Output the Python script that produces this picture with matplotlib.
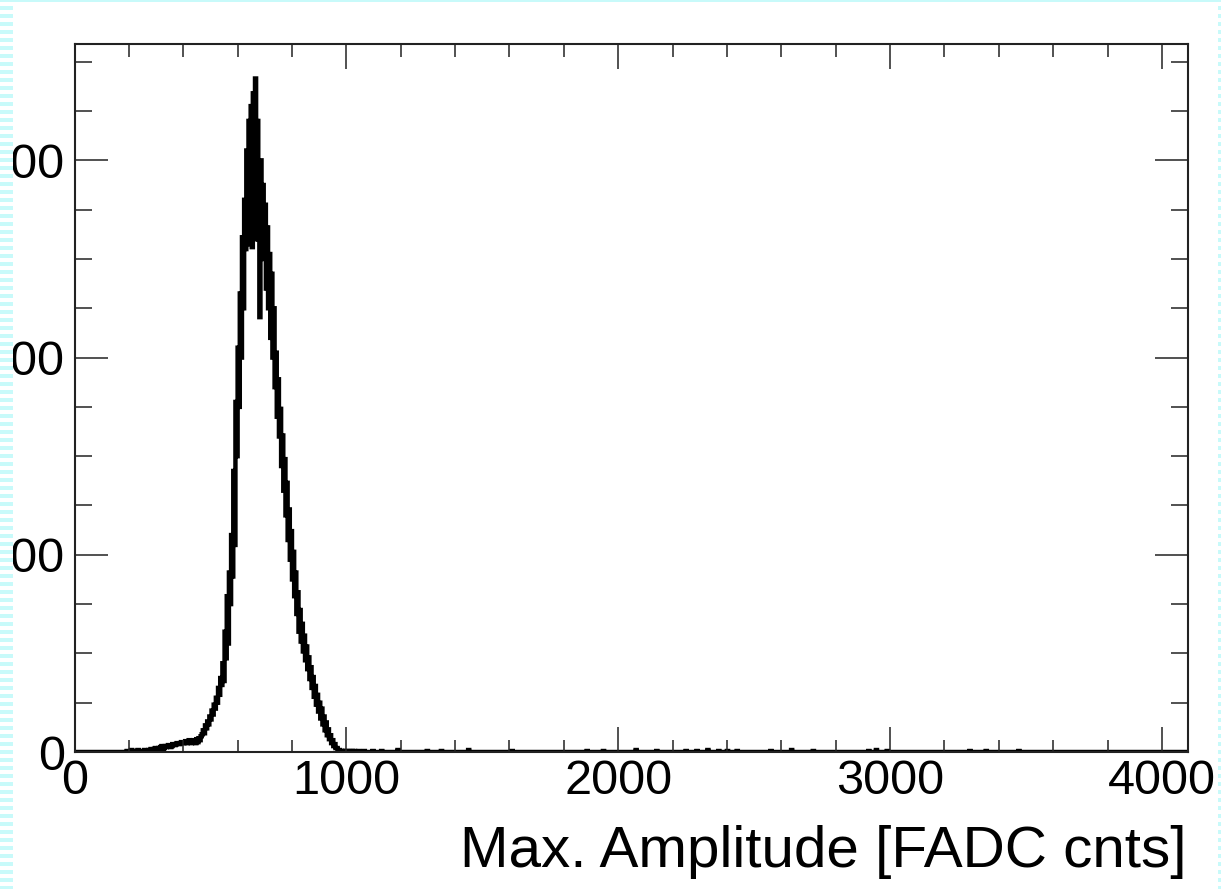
import numpy as np
import matplotlib
matplotlib.use("Agg")
import matplotlib.pyplot as plt
from matplotlib.patches import Rectangle
from matplotlib.ticker import MultipleLocator

plt.rcParams['font.family'] = ['Liberation Sans', 'DejaVu Sans']

# histogram: 1024 bins of 4 FADC counts over 0..4096
BIN_W = 4
N_BINS = 1024

# bin contents, first bin starts at 184
peak_start = 184
peak_counts = [
    # 184 - 436
    0, 0, 1, 0, 0, 0, 2, 1, 1, 0, 0, 0, 2, 0, 1, 1,
    1, 0, 2, 1, 1, 1, 2, 0, 3, 1, 2, 3, 4, 2, 3, 4,
    4, 5, 6, 3, 4, 6, 5, 6, 7, 7, 5, 6, 8, 7, 7, 8,
    9, 8, 8, 9, 10, 9, 9, 10, 11, 9, 10, 12, 11, 9, 10, 12,
    # 440 - 540
    12, 9, 13, 10, 14, 12, 16, 18, 22, 19, 27, 24, 31, 28, 36, 33,
    42, 38, 48, 44, 55, 50, 65, 58, 75, 68,
    # 544 - 660 (rising edge)
    90, 72, 122, 95, 158, 110, 182, 150, 220, 178, 285, 210, 355, 300, 410, 350,
    465, 400, 522, 450, 560, 510, 610, 530, 640, 515, 655, 512, 668, 520,
    # 664 - 700 (top)
    683, 530, 640, 520, 441, 600, 515, 575, 500, 555,
    # 704 - 1000 (falling edge)
    470, 532, 450, 505, 420, 485, 400, 450, 370, 405, 340, 378, 320, 348, 290, 321,
    265, 297, 240, 273, 215, 246, 195, 224, 175, 203, 158, 182, 140, 162, 122, 144,
    112, 130, 102, 118, 93, 107, 84, 96, 74, 86, 65, 76, 56, 67, 48, 58,
    41, 50, 34, 44, 28, 36, 22, 30, 17, 23, 13, 17, 9, 12, 6, 8,
    4, 4, 2, 2, 1, 1, 0, 1, 0, 1, 1,
    # 1004 - 1048
    0, 1, 0, 0, 1, 0, 1, 0, 0, 0, 1, 0,
]

# sparse single entries in the long tail
tail_x = [1064, 1096, 1128, 1190, 1298, 1350, 1450, 1610, 1887, 1946,
          2065, 2143, 2250, 2290, 2330, 2370, 2400, 2439, 2561, 2639,
          2717, 2920, 2950, 2990, 3294, 3354, 3472]
tail_counts = [1, 1, 1, 2, 1, 1, 2, 1, 1, 1,
               2, 1, 1, 1, 2, 1, 1, 1, 1, 2,
               1, 1, 2, 1, 1, 1, 1]

x_label = "Max. Amplitude [FADC cnts]"

edges = np.arange(N_BINS + 1) * BIN_W
counts = np.zeros(N_BINS)
i0 = peak_start // BIN_W
counts[i0:i0 + len(peak_counts)] = peak_counts
for tx, tc in zip(tail_x, tail_counts):
    counts[tx // BIN_W] = tc

W, H = 1221, 889
fig = plt.figure(figsize=(W / 100, H / 100), dpi=100)

ax = fig.add_axes([74.5 / W, (H - 752) / H, (1188 - 74.5) / W, (752 - 44) / H])
ax.stairs(counts, edges, color='black', lw=3.2)

ax.set_xlim(0, 4096)
ax.set_ylim(0, 718)
ax.xaxis.set_major_locator(MultipleLocator(1000))
ax.xaxis.set_minor_locator(MultipleLocator(200))
ax.yaxis.set_major_locator(MultipleLocator(200))
ax.yaxis.set_minor_locator(MultipleLocator(50))

ax.tick_params(axis='both', which='both', direction='in', top=True, right=True,
               width=1.1, color='#222222', labelsize=35)
ax.tick_params(axis='x', which='major', length=18, pad=5)
ax.tick_params(axis='x', which='minor', length=9)
ax.tick_params(axis='y', which='major', length=24, pad=7)
ax.tick_params(axis='y', which='minor', length=12)
for s in ax.spines.values():
    s.set_linewidth(1.5)
    s.set_color('#222222')

fig.text(1187 / W, (H - 867) / H, x_label, ha='right', va='baseline', fontsize=42)

# slide border around the picture (drawn on top, it hides the label overflow)
bg = fig.add_axes([0, 0, 1, 1], zorder=10)
bg.set_xlim(0, W)
bg.set_ylim(H, 0)
bg.axis('off')
cyan = '#c8fafa'
bg.add_patch(Rectangle((0, 0), 13, H, color='white', lw=0))
bg.add_patch(Rectangle((0, 0), W, 2, color=cyan, lw=0))
for yy in range(6, H, 8):
    bg.add_patch(Rectangle((0, yy), 13, 3.5, color=cyan, lw=0))
    bg.add_patch(Rectangle((1218, yy), 3, 3.5, color=cyan, lw=0))

fig.savefig('out.png', dpi=100)
